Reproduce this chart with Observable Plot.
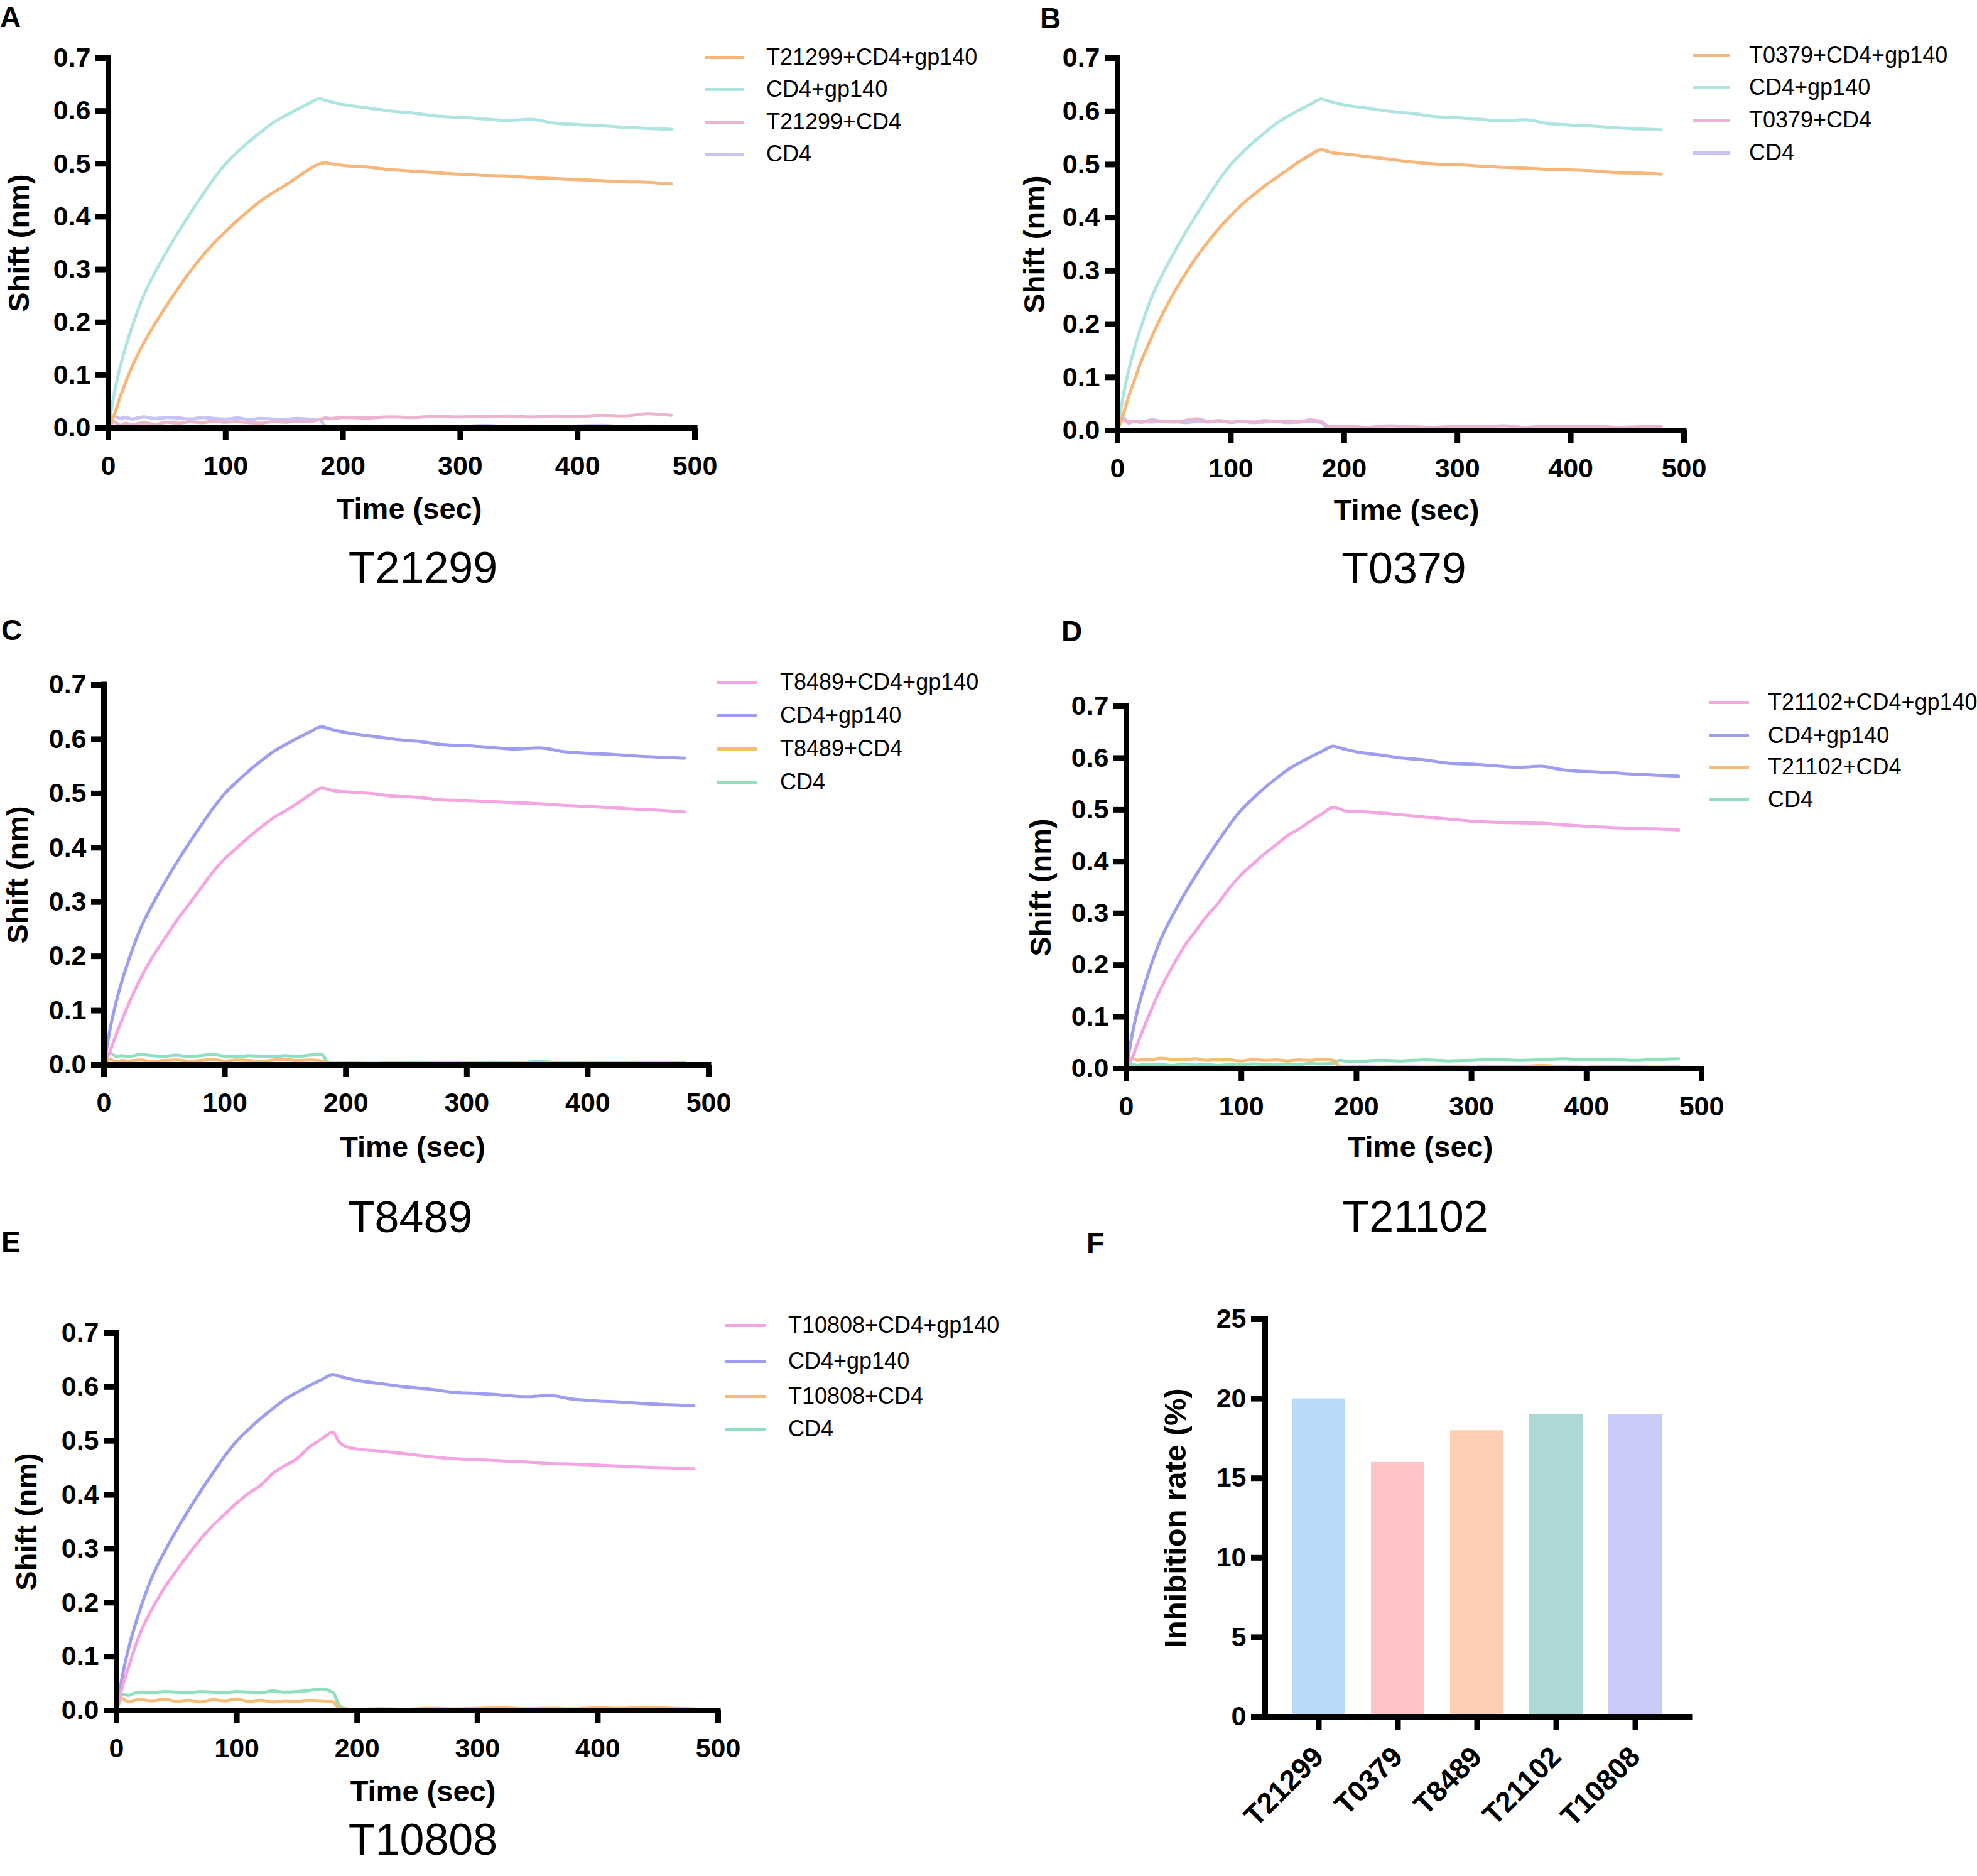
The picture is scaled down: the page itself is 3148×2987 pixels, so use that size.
<!DOCTYPE html>
<html>
<head>
<meta charset="utf-8">
<script src="https://cdn.jsdelivr.net/npm/d3@7"></script>
<script src="https://cdn.jsdelivr.net/npm/@observablehq/plot@0.6"></script>
<style>
  html, body { margin: 0; padding: 0; background: #fff; }
  #page { position: relative; width: 3148px; height: 2987px; background: #fff; overflow: hidden;
          font-family: "Liberation Sans", Arial, Helvetica, sans-serif; color: #000; }
  .panel { position: absolute; }
  .panel svg { overflow: visible; }
  .letter { position: absolute; font-weight: bold; font-size: 46px; line-height: 1; }
  .lg-line { position: absolute; height: 5px; }
  .lg-text { position: absolute; font-size: 36px; line-height: 1; transform: translateY(-50%); white-space: nowrap; }
</style>
</head>
<body>
<div id="page"></div>
<script>
// ---------------- DATA ----------------
const time = [0,5,10,15,20,30,40,50,60,70,80,90,100,110,120,130,140,150,160,170,180,185,190,200,220,240,260,280,300,320,340,360,380,400,420,440,460,480];

// CD4+gp140 control (same control trace in every panel)
const controlShift = [0,0.065,0.115,0.155,0.19,0.25,0.295,0.335,0.372,0.407,0.44,0.472,0.5,0.522,0.542,0.56,0.577,0.59,0.602,0.613,0.623,0.62,0.617,0.612,0.606,0.6,0.596,0.59,0.588,0.585,0.582,0.584,0.577,0.574,0.572,0.569,0.567,0.565];

// Panel A – T21299
const aPeptideCD4gp140 = [0,0.025,0.058,0.088,0.115,0.16,0.198,0.233,0.266,0.297,0.325,0.35,0.372,0.393,0.412,0.43,0.445,0.458,0.473,0.488,0.5,0.502,0.5,0.497,0.494,0.489,0.486,0.483,0.48,0.478,0.477,0.474,0.472,0.47,0.468,0.466,0.465,0.462];
const aPeptideCD4 = [0,0.012,0.005,0.009,0.006,0.01,0.007,0.011,0.009,0.012,0.01,0.013,0.011,0.012,0.01,0.009,0.012,0.011,0.013,0.012,0.016,0.019,0.018,0.02,0.019,0.021,0.02,0.022,0.021,0.022,0.023,0.021,0.023,0.022,0.024,0.023,0.027,0.024];
const aCD4 = [0,0.022,0.018,0.02,0.017,0.021,0.018,0.02,0.019,0.017,0.02,0.018,0.017,0.019,0.016,0.018,0.017,0.016,0.018,0.017,0.016,0.004,0.003,0.002,0.004,0.003,0.002,0.004,0.003,0.005,0.003,0.004,0.002,0.004,0.005,0.003,0.004,0.003];

// Panel B – T0379
const bPeptideCD4gp140 = [0,0.03,0.065,0.095,0.125,0.175,0.22,0.26,0.295,0.327,0.355,0.381,0.404,0.425,0.443,0.46,0.475,0.49,0.505,0.518,0.528,0.525,0.522,0.52,0.515,0.51,0.505,0.501,0.5,0.497,0.495,0.493,0.491,0.49,0.488,0.485,0.484,0.482];
const bPeptideCD4 = [0,0.02,0.014,0.018,0.015,0.02,0.017,0.016,0.019,0.022,0.017,0.019,0.015,0.018,0.016,0.019,0.017,0.018,0.016,0.02,0.017,0.009,0.007,0.008,0.006,0.009,0.007,0.006,0.008,0.007,0.009,0.006,0.008,0.007,0.008,0.006,0.007,0.008];
const bCD4 = [0,0.024,0.016,0.018,0.017,0.016,0.018,0.017,0.015,0.017,0.016,0.018,0.016,0.017,0.015,0.016,0.017,0.015,0.016,0.017,0.015,0.003,0.002,0.003,0.002,0.003,0.002,0.003,0.002,0.003,0.002,0.003,0.002,0.003,0.002,0.003,0.002,0.003];

// Panel C – T8489
const cPeptideCD4gp140 = [0,0.025,0.055,0.083,0.11,0.158,0.198,0.232,0.265,0.295,0.325,0.355,0.38,0.4,0.42,0.438,0.455,0.468,0.482,0.497,0.51,0.508,0.505,0.503,0.5,0.495,0.493,0.488,0.487,0.485,0.483,0.481,0.478,0.476,0.474,0.471,0.469,0.466];
const cPeptideCD4 = [0,0.01,0.006,0.008,0.007,0.009,0.006,0.008,0.009,0.007,0.008,0.01,0.007,0.009,0.008,0.006,0.009,0.01,0.008,0.009,0.007,0.003,0.002,0.003,0.002,0.003,0.002,0.004,0.003,0.002,0.003,0.004,0.002,0.003,0.002,0.003,0.004,0.002];
const cCD4 = [0,0.022,0.016,0.017,0.015,0.019,0.017,0.016,0.018,0.015,0.017,0.019,0.016,0.015,0.017,0.016,0.015,0.017,0.016,0.018,0.02,0.005,0.003,0.004,0.003,0.004,0.005,0.003,0.004,0.005,0.004,0.006,0.004,0.005,0.004,0.005,0.004,0.005];

// Panel D – T21102
const dPeptideCD4gp140 = [0,0.02,0.05,0.078,0.105,0.155,0.197,0.235,0.265,0.295,0.32,0.35,0.375,0.395,0.415,0.432,0.45,0.463,0.478,0.492,0.505,0.502,0.498,0.497,0.494,0.49,0.486,0.482,0.478,0.476,0.475,0.474,0.471,0.468,0.466,0.464,0.463,0.461];
const dPeptideCD4 = [0,0.02,0.016,0.018,0.017,0.02,0.018,0.017,0.019,0.016,0.018,0.017,0.015,0.018,0.016,0.017,0.015,0.017,0.016,0.018,0.016,0.005,0.003,0.004,0.003,0.004,0.003,0.004,0.003,0.005,0.004,0.006,0.004,0.003,0.005,0.004,0.003,0.004];
const dCD4 = [0,0.008,0.006,0.008,0.007,0.008,0.006,0.009,0.007,0.008,0.006,0.008,0.007,0.009,0.008,0.007,0.009,0.008,0.01,0.009,0.011,0.016,0.015,0.014,0.016,0.015,0.017,0.015,0.016,0.018,0.016,0.017,0.019,0.017,0.018,0.016,0.018,0.019];

// Panel E – T10808
const ePeptideCD4gp140 = [0,0.045,0.08,0.115,0.145,0.19,0.228,0.26,0.29,0.318,0.343,0.364,0.385,0.403,0.418,0.44,0.454,0.467,0.488,0.503,0.516,0.498,0.49,0.485,0.481,0.476,0.471,0.467,0.465,0.463,0.461,0.458,0.457,0.455,0.453,0.451,0.45,0.448];
const ePeptideCD4 = [0,0.022,0.016,0.019,0.02,0.018,0.021,0.017,0.019,0.016,0.02,0.018,0.021,0.017,0.019,0.016,0.018,0.017,0.019,0.018,0.016,0.004,0.003,0.002,0.003,0.002,0.004,0.003,0.004,0.005,0.003,0.004,0.003,0.005,0.004,0.006,0.004,0.003];
const eCD4 = [0,0.03,0.028,0.032,0.034,0.033,0.035,0.034,0.033,0.035,0.034,0.033,0.035,0.034,0.033,0.036,0.034,0.035,0.037,0.04,0.033,0.01,0.003,0.002,0.003,0.002,0.003,0.002,0.003,0.002,0.003,0.002,0.003,0.002,0.003,0.002,0.003,0.002];

// Panel F – inhibition rate
const peptides = ["T21299","T0379","T8489","T21102","T10808"];
const inhibitionRate = [20,16,18,19,19];
const barColors = ["#b8daf9","#fec3c5","#fecfb2","#acd8d7","#cbcbf9"];

// ticks
const timeTicks = [0,100,200,300,400,500];
const shiftTicks = [0,0.1,0.2,0.3,0.4,0.5,0.6,0.7];
const rateTicks = [0,5,10,15,20,25];

// colour sets
const colorsAB = ["#f7b77a","#b0e4e2","#ebb5d0","#c7c3f5"];
const colorsCDE = ["#f5a6e2","#9d9ef2","#f9bc74","#8fe0bf"];

// ---------------- LAYOUT ----------------
const FONT = '"Liberation Sans", Arial, Helvetica, sans-serif';
const TICK_FONT = 43;
const page = document.getElementById("page");

function addLetter(ch, x, y) {
  const d = document.createElement("div");
  d.className = "letter"; d.textContent = ch;
  d.style.left = x + "px"; d.style.top = y + "px";
  page.appendChild(d);
}

function addLegend(names, colors, lg) {
  names.forEach((n, i) => {
    const l = document.createElement("div");
    l.className = "lg-line";
    l.style.left = lg.x0 + "px"; l.style.width = (lg.x1 - lg.x0) + "px";
    l.style.top = (lg.rows[i] - 2.5) + "px"; l.style.background = colors[i];
    page.appendChild(l);
    const t = document.createElement("div");
    t.className = "lg-text"; t.textContent = n;
    t.style.left = lg.tx + "px"; t.style.top = lg.rows[i] + "px";
    page.appendChild(t);
  });
}

function linePanel(cfg) {
  const {reg, fr, names, colors, values, title} = cfg;
  const marks = [];
  // draw in reverse legend order so that the first legend entry is on top
  for (let k = values.length - 1; k >= 0; k--) {
    const pts = time.map((t, i) => ({t, v: values[k][i]}));
    marks.push(Plot.line(pts, {x: "t", y: "v", stroke: colors[k], strokeWidth: 5, strokeLinejoin: "round", curve: "monotone-x"}));
  }
  marks.push(
    Plot.ruleY([0], {stroke: "#000", strokeWidth: 9, strokeLinecap: "square"}),
    Plot.ruleX([0], {stroke: "#000", strokeWidth: 9, strokeLinecap: "square"}),
    Plot.axisX({ticks: timeTicks, tickSize: 20, tickPadding: 24, strokeWidth: 9, tickFormat: d => String(d), label: null, fontSize: TICK_FONT, fontWeight: "bold"}),
    Plot.axisY({ticks: shiftTicks, tickSize: 20, tickPadding: 8, strokeWidth: 9, tickFormat: d => d.toFixed(1), label: null, fontSize: TICK_FONT, fontWeight: "bold"}),
    Plot.text(["Time (sec)"], {text: d => d, frameAnchor: "bottom", dx: cfg.xt[0], dy: cfg.xt[1], fontSize: 47, fontWeight: "bold"}),
    Plot.text(["Shift (nm)"], {text: d => d, frameAnchor: "left", textAnchor: "middle", dx: cfg.yt - fr.x0, rotate: -90, fontSize: 47, fontWeight: "bold"}),
    Plot.text([title], {text: d => d, frameAnchor: "bottom", dx: cfg.pt[0], dy: cfg.pt[1], fontSize: 70, fontWeight: "normal"})
  );
  const svg = Plot.plot({
    width: reg.w, height: reg.h,
    marginLeft: fr.x0 - reg.x, marginRight: reg.x + reg.w - fr.x1,
    marginTop: fr.yT - reg.y, marginBottom: reg.y + reg.h - fr.yB,
    x: {domain: [0, 500]},
    y: {domain: [0, 0.7]},
    style: {fontFamily: FONT, fontSize: TICK_FONT + "px", fontWeight: "bold", color: "#000", background: "transparent", overflow: "visible"},
    marks
  });
  const holder = document.createElement("div");
  holder.className = "panel";
  holder.style.left = reg.x + "px"; holder.style.top = reg.y + "px";
  holder.appendChild(svg);
  page.appendChild(holder);
  addLegend(names, colors, cfg.lg);
}

// Panel A
linePanel({
  reg: {x: 0, y: 0, w: 1200, h: 990}, fr: {x0: 172, x1: 1106, yT: 92, yB: 681},
  xt: [12, 144], pt: [34, 246], yt: 30, title: "T21299",
  names: ["T21299+CD4+gp140", "CD4+gp140", "T21299+CD4", "CD4"], colors: colorsAB,
  values: [aPeptideCD4gp140, controlShift, aPeptideCD4, aCD4],
  lg: {x0: 1122, x1: 1185, tx: 1220, rows: [91, 142, 194, 245]}
});
// Panel B
linePanel({
  reg: {x: 1600, y: 0, w: 1100, h: 990}, fr: {x0: 1779, x1: 2681, yT: 92, yB: 685},
  xt: [9, 142], pt: [5, 243], yt: 1647, title: "T0379",
  names: ["T0379+CD4+gp140", "CD4+gp140", "T0379+CD4", "CD4"], colors: colorsAB,
  values: [bPeptideCD4gp140, controlShift, bPeptideCD4, bCD4],
  lg: {x0: 2695, x1: 2755, tx: 2785, rows: [88, 139, 191, 243]}
});
// Panel C
linePanel({
  reg: {x: 0, y: 990, w: 1200, h: 1000}, fr: {x0: 165, x1: 1128, yT: 1090, yB: 1695},
  xt: [10, 146], pt: [6, 266], yt: 28, title: "T8489",
  names: ["T8489+CD4+gp140", "CD4+gp140", "T8489+CD4", "CD4"], colors: colorsCDE,
  values: [cPeptideCD4gp140, controlShift, cPeptideCD4, cCD4],
  lg: {x0: 1142, x1: 1205, tx: 1242, rows: [1086, 1139, 1192, 1245]}
});
// Panel D
linePanel({
  reg: {x: 1600, y: 990, w: 1140, h: 1000}, fr: {x0: 1793, x1: 2709, yT: 1124, yB: 1701},
  xt: [10, 140], pt: [2, 259], yt: 1657, title: "T21102",
  names: ["T21102+CD4+gp140", "CD4+gp140", "T21102+CD4", "CD4"], colors: colorsCDE,
  values: [dPeptideCD4gp140, controlShift, dPeptideCD4, dCD4],
  lg: {x0: 2721, x1: 2785, tx: 2815, rows: [1118, 1171, 1221, 1273]}
});
// Panel E
linePanel({
  reg: {x: 0, y: 1990, w: 1200, h: 997}, fr: {x0: 185, x1: 1143, yT: 2122, yB: 2723},
  xt: [9, 144], pt: [9, 229], yt: 42, title: "T10808",
  names: ["T10808+CD4+gp140", "CD4+gp140", "T10808+CD4", "CD4"], colors: colorsCDE,
  values: [ePeptideCD4gp140, controlShift, ePeptideCD4, eCD4],
  lg: {x0: 1155, x1: 1219, tx: 1255, rows: [2110, 2167, 2223, 2275]}
});

// Panel F – bar chart
(function () {
  const reg = {x: 1700, y: 1990, w: 1100, h: 997};
  const fr = {x0: 2014, x1: 2690, yT: 2100, yB: 2733};
  const rows = peptides.map((p, i) => ({p, r: inhibitionRate[i], c: barColors[i]}));
  const svg = Plot.plot({
    width: reg.w, height: reg.h,
    marginLeft: fr.x0 - reg.x, marginRight: reg.x + reg.w - fr.x1,
    marginTop: fr.yT - reg.y, marginBottom: reg.y + reg.h - fr.yB,
    x: {type: "band", domain: peptides, paddingInner: 0.325, paddingOuter: 0.345},
    y: {domain: [0, 25]},
    style: {fontFamily: FONT, fontSize: TICK_FONT + "px", fontWeight: "bold", color: "#000", background: "transparent", overflow: "visible"},
    marks: [
      Plot.barY(rows, {x: "p", y: "r", fill: "c"}),
      Plot.ruleY([0], {stroke: "#000", strokeWidth: 9, strokeLinecap: "square"}),
      Plot.frame({anchor: "left", stroke: "#000", strokeWidth: 9}),
      Plot.axisX({tickSize: 22, tickPadding: 34, strokeWidth: 9, tickRotate: -45, label: null, fontSize: 46, fontWeight: "bold"}),
      Plot.axisY({ticks: rateTicks, tickSize: 22, tickPadding: 8, strokeWidth: 9, tickFormat: d => String(d), label: null, fontSize: TICK_FONT, fontWeight: "bold"}),
      Plot.text(["Inhibition rate (%)"], {text: d => d, frameAnchor: "left", textAnchor: "middle", dx: 1872 - fr.x0, rotate: -90, fontSize: 49, fontWeight: "bold"})
    ]
  });
  const holder = document.createElement("div");
  holder.className = "panel";
  holder.style.left = reg.x + "px"; holder.style.top = reg.y + "px";
  holder.appendChild(svg);
  page.appendChild(holder);
})();

addLetter("A", 0, 4);
addLetter("B", 1656, 6);
addLetter("C", 2, 980);
addLetter("D", 1690, 982);
addLetter("E", 2, 1954);
addLetter("F", 1730, 1956);
</script>
</body>
</html>
